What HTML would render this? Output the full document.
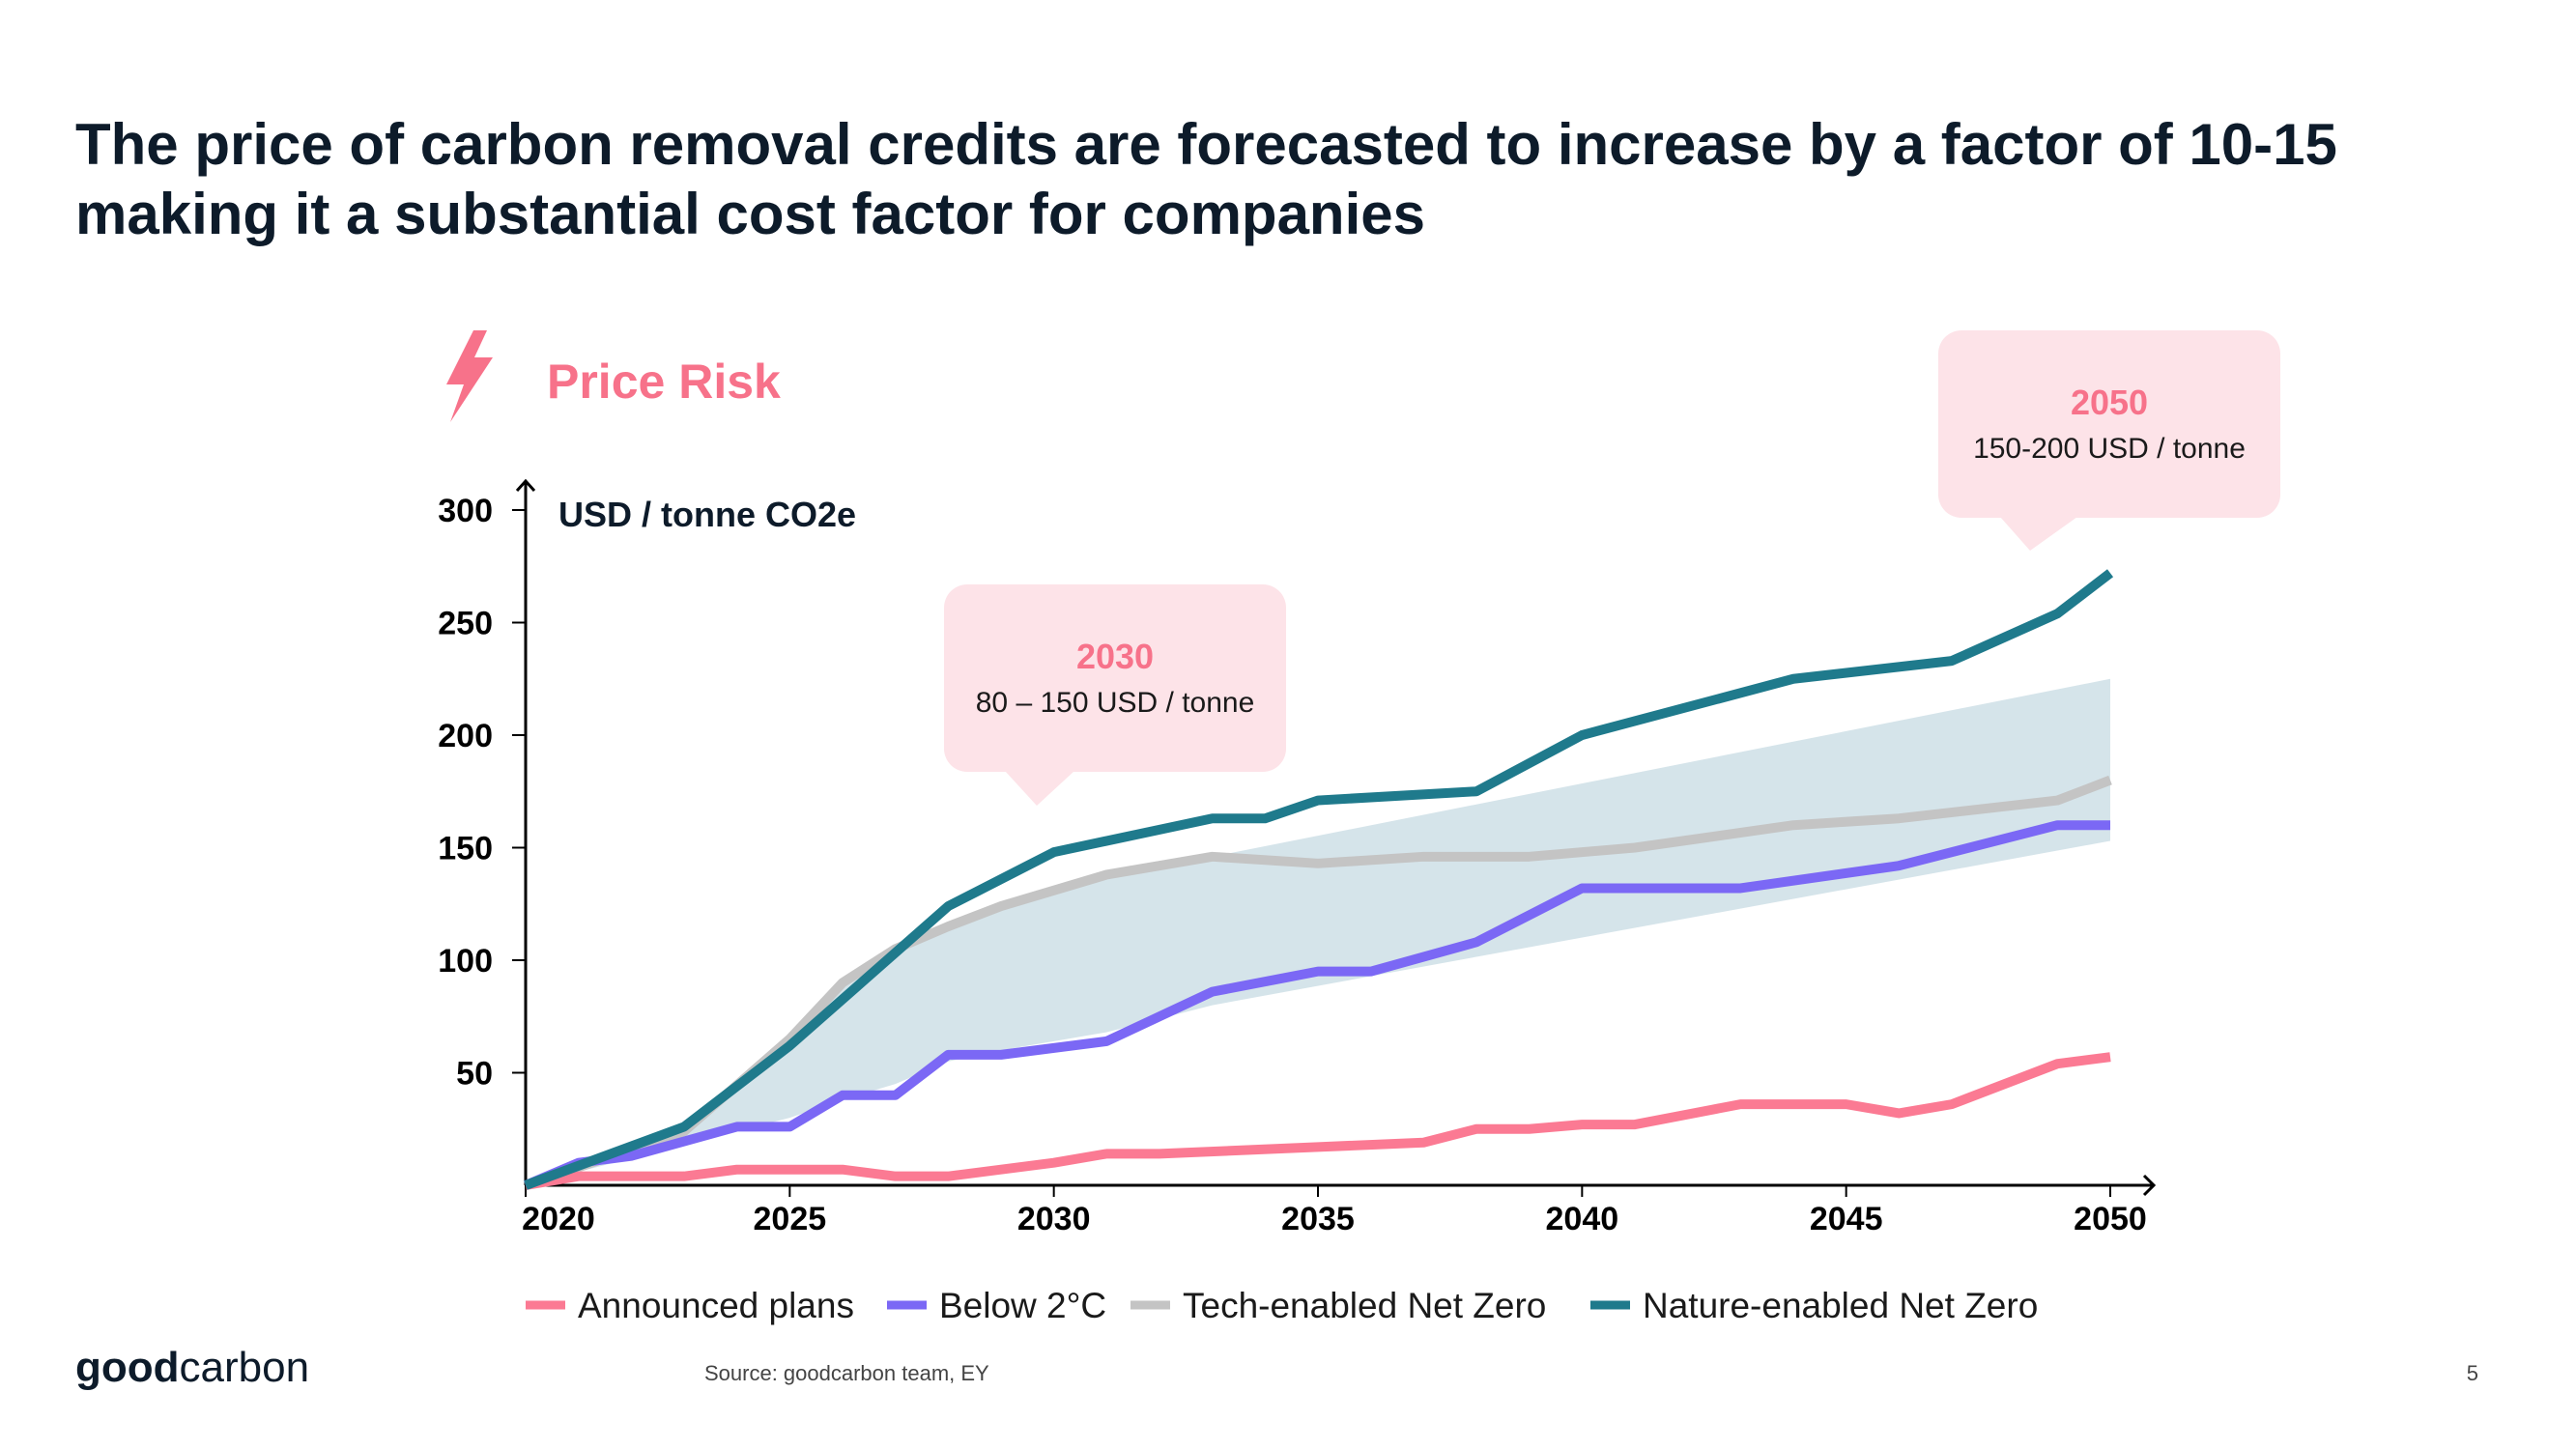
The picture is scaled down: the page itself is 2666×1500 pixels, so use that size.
<!DOCTYPE html>
<html><head><meta charset="utf-8"><style>
body{margin:0;background:#fff;}
svg{display:block;font-family:"Liberation Sans",sans-serif;}
</style></head><body>
<svg id="chart" width="2666" height="1500" viewBox="0 0 2666 1500">
<g fill="#0d1b2a" font-weight="bold" font-size="60">
<text x="78" y="170">The price of carbon removal credits are forecasted to increase by a factor of 10-15</text>
<text x="78" y="242">making it a substantial cost factor for companies</text>
</g>
<polygon points="490,342 462,398 480,398 466,437 510,370 491,370 504,342" fill="#f7728a"/>
<text x="566" y="412" font-size="50" font-weight="bold" fill="#f7728a">Price Risk</text>
<g id="plot"></g>
<g>
<rect x="977" y="605" width="354" height="194" rx="24" fill="#fde3e8"/>
<polygon points="1040,798 1112,798 1073,834" fill="#fde3e8"/>
<text x="1154" y="692" text-anchor="middle" font-size="36" font-weight="bold" fill="#f7728a">2030</text>
<text x="1154" y="737" text-anchor="middle" font-size="30" fill="#1a1a1a">80 – 150 USD / tonne</text>
</g>
<g>
<rect x="2006" y="342" width="354" height="194" rx="24" fill="#fde3e8"/>
<polygon points="2070,535 2150,535 2101,570" fill="#fde3e8"/>
<text x="2183" y="429" text-anchor="middle" font-size="36" font-weight="bold" fill="#f7728a">2050</text>
<text x="2183" y="474" text-anchor="middle" font-size="30" fill="#1a1a1a">150-200 USD / tonne</text>
</g>
<text x="578" y="545" font-size="36" font-weight="bold" fill="#0d1b2a">USD / tonne CO2e</text>
<g id="legend" font-size="37" fill="#1a1a1a"></g>
<text x="78" y="1430" font-size="44" fill="#0d1b2a"><tspan font-weight="bold">good</tspan>carbon</text>
<text x="729" y="1429" font-size="22" fill="#444">Source: goodcarbon team, EY</text>
<text x="2565" y="1429" font-size="22" fill="#444" text-anchor="end">5</text>
</svg>
<script>
const xTicks = [2020, 2025, 2030, 2035, 2040, 2045, 2050];
const yTicks = [50, 100, 150, 200, 250, 300];
const bandYears = [2020, 2023, 2025, 2026, 2027, 2028, 2029, 2031, 2033, 2050];
const bandUpper = [0, 24, 65, 90, 105, 115, 124, 138, 146, 225];
const bandLower = [0, 18, 30, 38, 45, 55, 60, 68, 80, 153];
const natureYears = [2020, 2023, 2025, 2028, 2030, 2033, 2034, 2035, 2038, 2040, 2044, 2047, 2049, 2050];
const natureVals = [0, 26, 62, 124, 148, 163, 163, 171, 175, 200, 225, 233, 254, 272];
const techYears = [2020, 2023, 2025, 2026, 2027, 2028, 2029, 2031, 2033, 2035, 2037, 2039, 2041, 2044, 2046, 2049, 2050];
const techVals = [0, 24, 65, 90, 105, 115, 124, 138, 146, 143, 146, 146, 150, 160, 163, 171, 180];
const belowYears = [2020, 2021, 2022, 2024, 2025, 2026, 2027, 2028, 2029, 2031, 2033, 2035, 2036, 2038, 2040, 2043, 2046, 2049, 2050];
const belowVals = [0, 10, 13, 26, 26, 40, 40, 58, 58, 64, 86, 95, 95, 108, 132, 132, 142, 160, 160];
const announcedYears = [2020, 2021, 2023, 2024, 2026, 2027, 2028, 2030, 2031, 2032, 2035, 2037, 2038, 2039, 2040, 2041, 2043, 2045, 2046, 2047, 2049, 2050];
const announcedVals = [0, 4, 4, 7, 7, 4, 4, 10, 14, 14, 17, 19, 25, 25, 27, 27, 36, 36, 32, 36, 54, 57];
const legendLabels = ["Announced plans", "Below 2°C", "Tech-enabled Net Zero", "Nature-enabled Net Zero"];

const NS = "http://www.w3.org/2000/svg";
const X0 = 544, X1 = 2184, Y0 = 1227, Y300 = 528;
const xs = y => X0 + (y - 2020) * (X1 - X0) / 30;
const ys = v => Y0 - v * (Y0 - Y300) / 300;
const plot = document.getElementById('plot');
function mk(tag, attrs, parent) {
  const e = document.createElementNS(NS, tag);
  for (const k in attrs) e.setAttribute(k, attrs[k]);
  (parent || plot).appendChild(e);
  return e;
}
let pts = bandYears.map((y, i) => xs(y) + ',' + ys(bandUpper[i]));
for (let i = bandYears.length - 1; i >= 0; i--) pts.push(xs(bandYears[i]) + ',' + ys(bandLower[i]));
const band = mk('polygon', {points: pts.join(' '), fill: '#d5e4ea'});


const ax = mk('path', {d: `M${X0},${Y0}H${X1 + 45}M${X1 + 35},${Y0 - 10}L${X1 + 45},${Y0}L${X1 + 35},${Y0 + 10}M${X0},${Y0}V${Y300 - 30}M${X0 - 9},${Y300 - 20}L${X0},${Y300 - 30}L${X0 + 9},${Y300 - 20}`, stroke: '#000', 'stroke-width': 3, fill: 'none'});


xTicks.forEach((t, i) => {
  mk('line', {x1: xs(t), x2: xs(t), y1: Y0, y2: Y0 + 12, stroke: '#000', 'stroke-width': 2});
  const tx = mk('text', {x: xs(t) + (i === 0 ? 34 : 0), y: Y0 + 46, 'text-anchor': 'middle', 'font-size': 34, 'font-weight': 'bold', fill: '#000'});
  tx.textContent = t;
  
  
});
yTicks.forEach(t => {
  mk('line', {x1: X0 - 14, x2: X0, y1: ys(t), y2: ys(t), stroke: '#000', 'stroke-width': 2});
  const tx = mk('text', {x: X0 - 34, y: ys(t) + 12, 'text-anchor': 'end', 'font-size': 34, 'font-weight': 'bold', fill: '#000'});
  tx.textContent = t;
  
  
});
const series = [
  [announcedYears, announcedVals, '#fb7a93', 'announced-plans-line'],
  [belowYears, belowVals, '#7b68f5', 'below-2c-line'],
  [techYears, techVals, '#c4c4c4', 'tech-net-zero-line'],
  [natureYears, natureVals, '#1f7a8c', 'nature-net-zero-line']
];
const drawOrder = [2, 0, 1, 3];
drawOrder.forEach(i => {
  const s = series[i];
  const p = mk('polyline', {points: s[0].map((y, j) => xs(y) + ',' + ys(s[1][j])).join(' '), fill: 'none', stroke: s[2], 'stroke-width': 10, 'stroke-linejoin': 'round'});
  
  
});
const lg = document.getElementById('legend');
const lgX = [544, 918, 1170, 1646];
legendLabels.forEach((l, i) => {
  const g = mk('g', {}, lg);
  
  
  mk('line', {x1: lgX[i], x2: lgX[i] + 41, y1: 1351, y2: 1351, stroke: series[i][2], 'stroke-width': 9}, g);
  const t = mk('text', {x: lgX[i] + 54, y: 1364}, g);
  t.textContent = l;
});
</script>
</body></html>
